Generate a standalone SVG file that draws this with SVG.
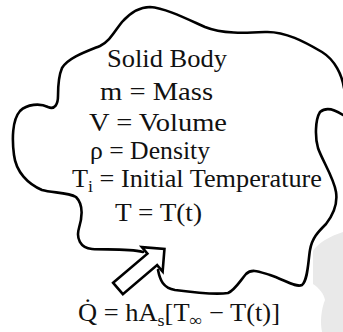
<svg xmlns="http://www.w3.org/2000/svg" width="343" height="332" viewBox="0 0 343 332">
<style>
.t{font-family:"Liberation Serif","Times New Roman",serif;fill:#111;font-size:25px}
.sub{font-size:17px}
.line{fill:none;stroke:#000;stroke-width:2.6;stroke-linecap:round;stroke-linejoin:round}
</style>
<rect width="343" height="332" fill="#fff"/>
<path id="watermark" d="M343,232 C330,236 318,243 313,251 L313,284 C319,288 324,294 325,300 C321,310 320,322 322,332 L343,332 Z" fill="#e9e9e9"/>
<g id="connectors">
<path id="body-outline" class="line" d="M143,252 C128,248 105,250 92,249 C80,248 76,238 79,228 C82,218 84,205 76,197 C68,192 52,193 42,190 C28,184 16,172 14,155 C12,140 12,120 20,111 C27,104 40,103 48,107 C55,110 58,104 58,96 C58,85 59,75 62,68 C68,58 85,52 100,46 C110,41 114,32 122,22 C130,13 140,7 150,7 C165,8 185,18 205,27 C222,34 245,33 265,32 C285,31 305,42 322,52 C335,60 342,75 344,88 C350,100 350,112 343,115 C337,111 327,106 320,112 C315,120 315,138 318,148 C322,160 334,178 336,192 C338,205 333,215 326,224 C318,232 312,238 310,250 C308,262 308,280 302,285 C296,288 285,280 270,275 C260,272 252,268 246,274 C240,281 235,290 228,293 C215,295 190,292 175,290 C163,288 160,280 158,270"/>
<polygon id="heat-arrow" points="0,-7.5 45,-7.5 45,-16 61,0 45,16 45,7.5 0,7.5" transform="translate(118,288.5) rotate(-40.4)" fill="#fff" stroke="#000" stroke-width="2.6" stroke-linejoin="miter"/>
</g>
<g id="solid-body">
<text class="t" x="107" y="67" textLength="120" lengthAdjust="spacingAndGlyphs">Solid Body</text>
<text class="t" x="100" y="100" textLength="113" lengthAdjust="spacingAndGlyphs">m = Mass</text>
<text class="t" x="89" y="131" textLength="138" lengthAdjust="spacingAndGlyphs">V = Volume</text>
<text class="t" x="90" y="159" font-size="23" textLength="120" lengthAdjust="spacingAndGlyphs">ρ = Density</text>
<text class="t" x="72" y="187" font-size="24" textLength="250" lengthAdjust="spacingAndGlyphs">T<tspan class="sub" dy="5">i</tspan><tspan dy="-5"> = Initial Temperature</tspan></text>
<text class="t" x="115" y="221" textLength="87" lengthAdjust="spacingAndGlyphs">T = T(t)</text>
</g>
<g id="heat-flux">
<text class="t" x="78" y="321" font-size="24" textLength="202" lengthAdjust="spacingAndGlyphs">Q̇ = hA<tspan class="sub" dy="5">s</tspan><tspan dy="-5">[T</tspan><tspan class="sub" dy="5">∞</tspan><tspan dy="-5"> − T(t)]</tspan></text>
</g>
</svg>
